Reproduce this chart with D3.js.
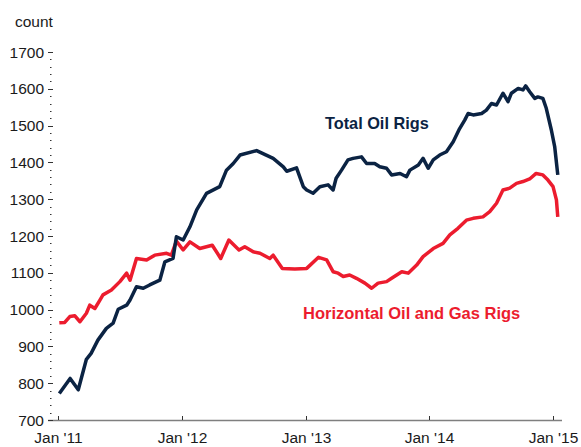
<!DOCTYPE html>
<html>
<head>
<meta charset="utf-8">
<script src="https://cdn.jsdelivr.net/npm/d3@7"></script>
<style>
  html, body { margin: 0; padding: 0; background: #fff; }
  svg { display: block; }
  text { font-family: "Liberation Sans", Arial, sans-serif; }
</style>
</head>
<body>
<svg id="chart" width="581" height="447"></svg>
<script>
// ---- data ----
const totalDates = ["2011-01-04","2011-02-05","2011-03-01","2011-03-25","2011-04-08","2011-04-28","2011-05-23","2011-06-12","2011-06-27","2011-07-22","2011-08-01","2011-08-20","2011-09-09","2011-09-28","2011-10-28","2011-11-12","2011-12-06","2011-12-16","2012-01-05","2012-01-25","2012-02-14","2012-03-14","2012-04-22","2012-05-12","2012-06-01","2012-06-21","2012-08-09","2012-09-27","2012-10-27","2012-11-06","2012-12-05","2012-12-25","2013-01-04","2013-01-23","2013-02-12","2013-03-08","2013-03-23","2013-04-01","2013-04-17","2013-05-06","2013-05-21","2013-06-15","2013-06-30","2013-07-24","2013-08-08","2013-08-28","2013-09-12","2013-10-07","2013-10-26","2013-11-05","2013-11-30","2013-12-14","2013-12-29","2014-01-13","2014-02-01","2014-02-21","2014-03-13","2014-04-01","2014-04-16","2014-04-26","2014-05-11","2014-06-05","2014-06-19","2014-07-04","2014-07-19","2014-08-07","2014-08-22","2014-09-01","2014-09-21","2014-10-05","2014-10-13","2014-10-25","2014-11-09","2014-11-18","2014-12-03","2014-12-13","2014-12-28","2015-01-07","2015-01-16"];
const totalValues = [772,813,782,865,881,917,949,963,1001,1012,1026,1062,1058,1067,1080,1130,1139,1198,1189,1225,1271,1316,1334,1379,1397,1420,1432,1411,1388,1376,1385,1334,1325,1316,1334,1339,1325,1357,1379,1407,1411,1415,1397,1397,1388,1384,1366,1370,1361,1379,1393,1411,1384,1407,1420,1429,1456,1492,1515,1533,1529,1533,1542,1560,1556,1588,1565,1588,1601,1597,1608,1592,1574,1578,1574,1547,1488,1442,1366];

const horizDates = ["2011-01-04","2011-01-20","2011-02-04","2011-02-19","2011-03-06","2011-03-25","2011-04-04","2011-04-19","2011-05-04","2011-05-13","2011-06-07","2011-07-02","2011-07-22","2011-08-01","2011-08-20","2011-09-19","2011-10-13","2011-11-17","2011-12-01","2011-12-16","2012-01-05","2012-01-25","2012-02-23","2012-03-31","2012-04-25","2012-05-19","2012-06-18","2012-07-05","2012-07-30","2012-08-19","2012-09-17","2012-09-27","2012-10-24","2012-11-30","2013-01-04","2013-02-08","2013-03-04","2013-03-23","2013-04-07","2013-04-22","2013-05-11","2013-05-31","2013-06-25","2013-07-15","2013-08-03","2013-08-28","2013-09-12","2013-10-12","2013-10-31","2013-11-25","2013-12-14","2014-01-13","2014-02-11","2014-03-03","2014-03-27","2014-04-21","2014-05-11","2014-06-09","2014-06-29","2014-07-19","2014-08-07","2014-08-27","2014-09-16","2014-10-05","2014-10-25","2014-11-13","2014-12-03","2014-12-18","2015-01-02","2015-01-12","2015-01-16"];
const horizValues = [964,965,981,983,967,990,1012,1003,1026,1040,1053,1076,1099,1080,1139,1135,1148,1153,1148,1186,1162,1184,1166,1175,1139,1189,1162,1171,1157,1153,1139,1148,1112,1110,1112,1142,1135,1103,1099,1090,1094,1085,1072,1058,1072,1076,1085,1103,1099,1121,1144,1166,1180,1203,1221,1243,1248,1252,1266,1289,1325,1330,1343,1348,1355,1370,1366,1352,1334,1298,1252];

const xTickDates = ["2011-01-01","2012-01-01","2013-01-01","2014-01-01","2015-01-01"];
const xTickLabels = ["Jan '11","Jan '12","Jan '13","Jan '14","Jan '15"];
const yTicks = [700,800,900,1000,1100,1200,1300,1400,1500,1600,1700];
const seriesNames = ["Total Oil Rigs","Horizontal Oil and Gas Rigs"];
const yAxisTitle = "count";

// ---- drawing ----
const parse = d3.timeParse("%Y-%m-%d");
const svg = d3.select("#chart");
const navy = "#0b2343", red = "#ec1c2e";

const x = d3.scaleTime()
  .domain([parse("2011-01-01"), parse("2015-01-01")])
  .range([58.3, 552.7]);
const y = d3.scaleLinear().domain([700, 1700]).range([420, 52]);

// x axis baseline
svg.append("line")
  .attr("x1", 48).attr("x2", 562).attr("y1", 420.5).attr("y2", 420.5)
  .attr("stroke", "#7f7f7f").attr("stroke-width", 1.5);

// x ticks
const xg = svg.append("g");
xTickDates.forEach((d, i) => {
  const px = Math.round(x(parse(d))) + 0.5;
  xg.append("line").attr("x1", px).attr("x2", px).attr("y1", 416).attr("y2", 420)
    .attr("stroke", "#333").attr("stroke-width", 1);
  xg.append("text").attr("x", px).attr("y", 443)
    .attr("text-anchor", "middle").attr("font-size", 15.5).attr("fill", "#1a1a1a")
    .text(xTickLabels[i]);
});

// y ticks (major + minor)
const yg = svg.append("g");
d3.range(700, 1701, 20).forEach(v => {
  const py = Math.round(y(v)) + 0.5;
  const major = v % 100 === 0;
  yg.append("line")
    .attr("x1", major ? 48 : 50).attr("x2", major ? 53 : 51.5)
    .attr("y1", py).attr("y2", py)
    .attr("stroke", "#333").attr("stroke-width", 1);
});
yTicks.forEach(v => {
  yg.append("text").attr("x", 44).attr("y", y(v) + 5.5)
    .attr("text-anchor", "end").attr("font-size", 15.5).attr("fill", "#1a1a1a")
    .text(v);
});

svg.append("text").attr("x", 15).attr("y", 27)
  .attr("font-size", 15.5).attr("fill", "#1a1a1a").text(yAxisTitle);

// lines
const line = d3.line().x(d => x(d[0])).y(d => y(d[1]));
const totalData = totalDates.map((d, i) => [parse(d), totalValues[i]]);
const horizData = horizDates.map((d, i) => [parse(d), horizValues[i]]);

svg.append("path").datum(horizData).attr("d", line)
  .attr("fill", "none").attr("stroke", red).attr("stroke-width", 3.5)
  .attr("stroke-linejoin", "round");
svg.append("path").datum(totalData).attr("d", line)
  .attr("fill", "none").attr("stroke", navy).attr("stroke-width", 3.5)
  .attr("stroke-linejoin", "round");

// series labels
svg.append("text").attr("x", 325).attr("y", 129)
  .attr("font-size", 16.3).attr("font-weight", "bold").attr("fill", navy)
  .text(seriesNames[0]);
svg.append("text").attr("x", 303).attr("y", 319)
  .attr("font-size", 16.5).attr("font-weight", "bold").attr("fill", red)
  .text(seriesNames[1]);
</script>
</body>
</html>
